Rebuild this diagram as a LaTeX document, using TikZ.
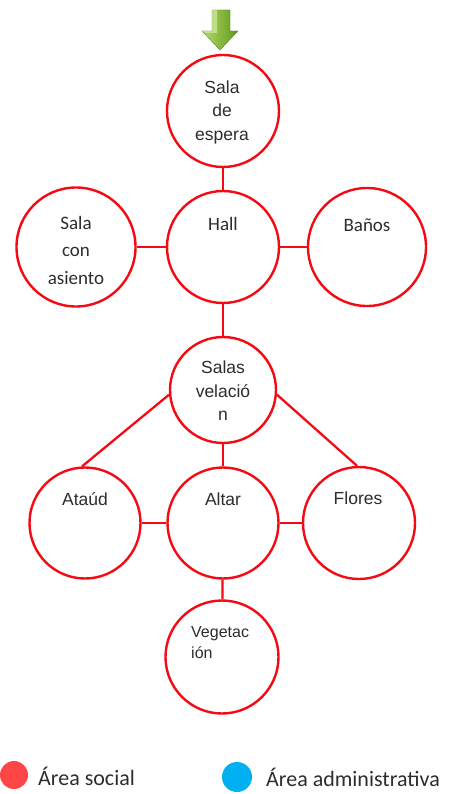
\documentclass[tikz,border=0pt]{standalone}
\usepackage{fontspec}
\newfontfamily\arialf{Liberation Sans}
\newfontfamily\calif{Carlito}
\definecolor{ringred}{RGB}{245,10,20}
\definecolor{txtgray}{RGB}{45,45,45}
\definecolor{dotred}{RGB}{255,70,70}
\definecolor{dotblue}{RGB}{0,176,240}
\definecolor{arrowlight}{RGB}{176,220,100}
\definecolor{arrowdark}{RGB}{98,150,30}
\begin{document}
\begin{tikzpicture}[x=1pt,y=-1pt,
  ring/.style={circle,draw=ringred,line width=2.4pt,fill=white,inner sep=0pt},
  conn/.style={draw=ringred,line width=2.3pt},
  atext/.style={text=txtgray,align=center,inner sep=0pt,font=\arialf\fontsize{17.5}{23.5}\selectfont},
  ctext/.style={text=txtgray,align=center,inner sep=0pt,font=\calif\fontsize{19}{27.5}\selectfont},
  legtext/.style={text=txtgray,anchor=west,inner sep=0pt,font=\calif\fontsize{22}{26}\selectfont}]
\useasboundingbox[fill=white] (0,0) rectangle (449,794);

% circles
\node[ring,minimum size=112pt] (se) at (223,111) {};
\node[ring,minimum size=112pt] (hall) at (223,247) {};
\node[ring,minimum size=119pt] (sca) at (76,247) {};
\node[ring,minimum size=118pt] (banos) at (367,247) {};
\node[ring,minimum size=106pt] (sv) at (223,390) {};
\node[ring,minimum size=111pt] (ataud) at (85,523) {};
\node[ring,minimum size=111pt] (altar) at (223,523) {};
\node[ring,minimum size=112pt] (flores) at (359,523) {};
\node[ring,minimum size=113pt] (veg) at (222,657) {};

% connectors
\begin{scope}[on background layer/.style={}]
\end{scope}
\draw[conn] (se) -- (hall);
\draw[conn] (sca) -- (hall);
\draw[conn] (hall) -- (banos);
\draw[conn] (hall) -- (sv);
\draw[conn] (sv.185) -- (ataud.93);
\draw[conn] (sv.355) -- (flores.92);
\draw[conn] (sv) -- (altar);
\draw[conn] (ataud) -- (altar);
\draw[conn] (altar) -- (flores);
\draw[conn] (altar) -- (veg);

% texts
\node[atext] (tse) at (222,112) {Sala\\de\\espera};
\node[ctext] (thall) at (223,224) {Hall};
\node[ctext] (tsca) at (76,250) {Sala\\con\\asiento};
\node[ctext] (tbanos) at (367,225) {Baños};
\node[atext] (tsv) at (223,391) {Salas\\velació\\n};
\node[atext] (tataud) at (85,499) {Ataúd};
\node[atext] (taltar) at (223,499) {Altar};
\node[atext] (tflores) at (358,498) {Flores};
\node[text=txtgray,align=left,inner sep=0pt,anchor=west,font=\arialf\fontsize{16}{21}\selectfont] (tveg) at (191,643) {Vegetac\\ión};

% green arrow
\path[left color=arrowlight,right color=arrowdark,draw=arrowdark!80!black,line width=0.3pt]
  (212,10) -- (230,10) -- (230,31) -- (238,31) -- (220,50) -- (202,31) -- (212,31) -- cycle;
\fill[arrowlight!60!white,opacity=0.7] (212,10) -- (217,10) -- (217,33) -- (206,33) -- (202,31) -- (212,31) -- cycle;

% legend
\fill[dotred] (14,775) circle (14pt) coordinate (dr);
\node[legtext] (lsoc) at (38,776) {Área social};
\fill[dotblue] (237,777) circle (15pt) coordinate (db);
\node[legtext] (ladm) at (266,777) {Área administrativa};
\end{tikzpicture}
\end{document}
